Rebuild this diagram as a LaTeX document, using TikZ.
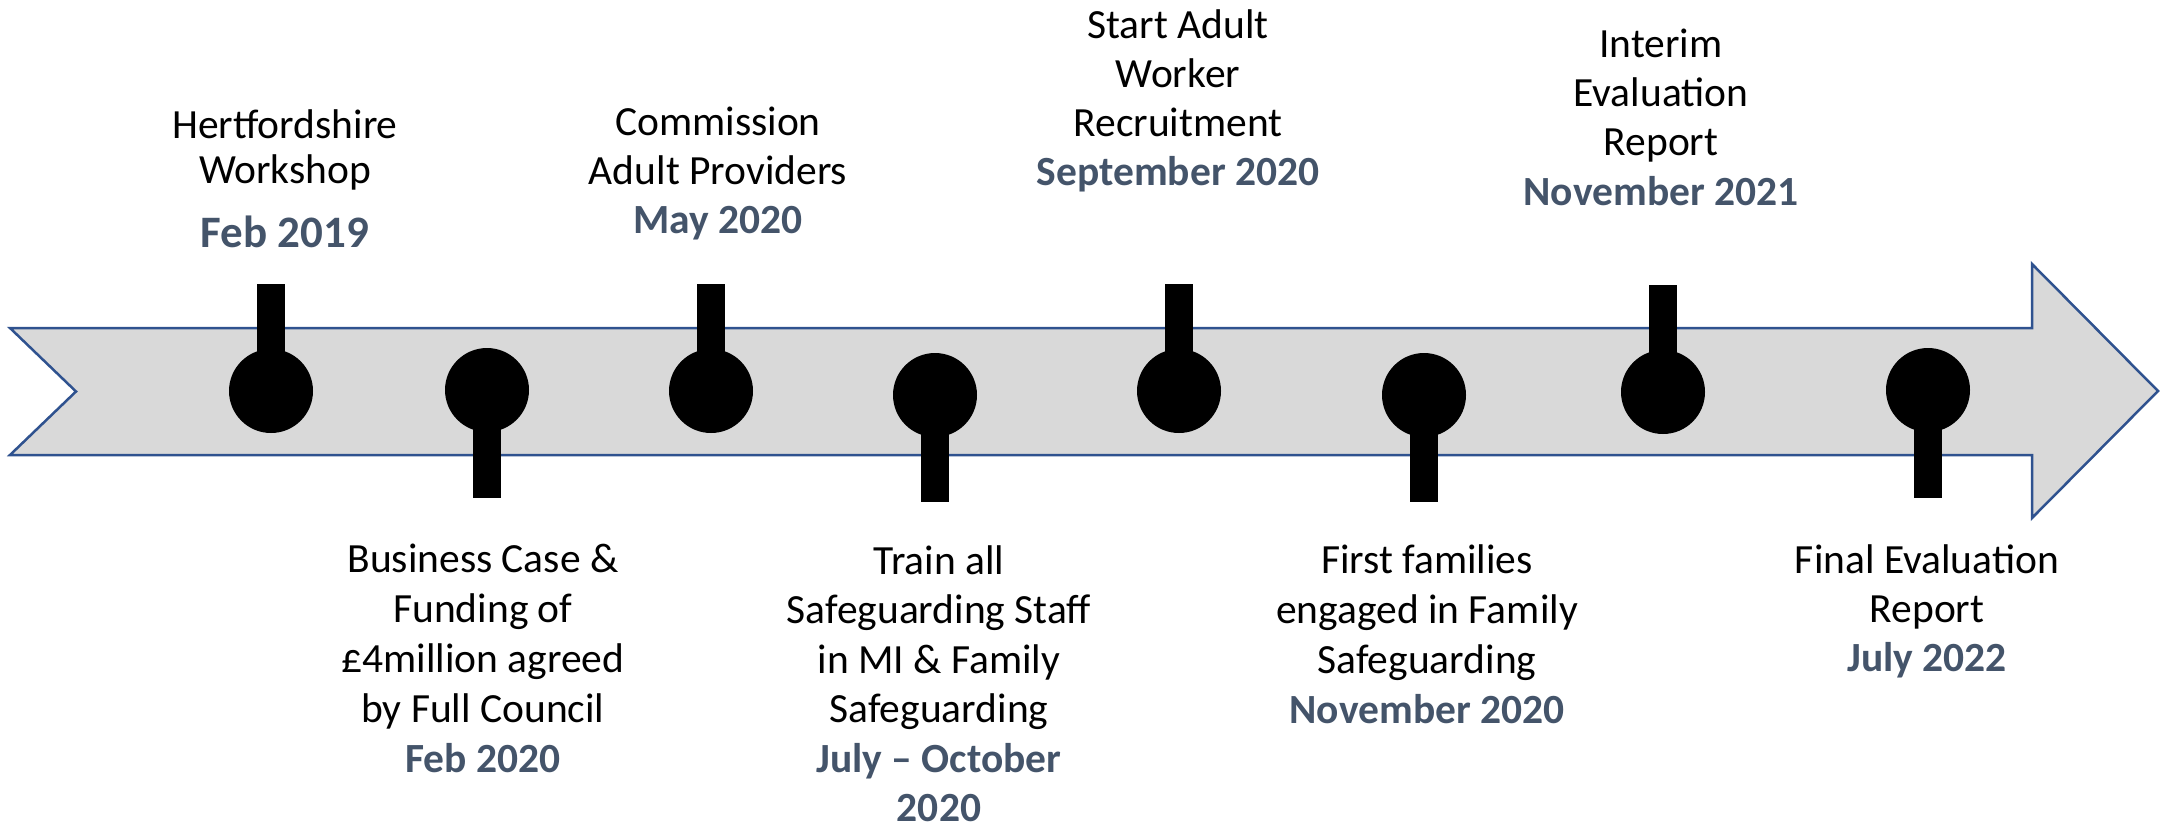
\documentclass[tikz,border=0pt]{standalone}
\usepackage{fontspec}
\setmainfont{Carlito}
\usetikzlibrary{calc}
\definecolor{datec}{HTML}{44546A}
\definecolor{bandfill}{HTML}{D9D9D9}
\definecolor{bandline}{HTML}{2F528F}
\newcommand\mydate[1]{{\bfseries\color{datec}#1}}
\newcommand\firststrut{\rule{0pt}{32pt}}
\begin{document}
\begin{tikzpicture}[x=1pt,y=-1pt,
  band/.style={fill=bandfill, draw=bandline, line width=2.5pt, line join=miter},
  pinhead/.style={circle, fill=black, minimum size=84pt, inner sep=0pt},
  stem/.style={fill=black},
  lbl/.style={align=center, inner sep=0pt, anchor=north},
  ]
\useasboundingbox (0,0) rectangle (2172,831);

% timeline arrow
\draw[band] (10,328) -- (2032,328) -- (2032,264) -- (2158,391) -- (2032,518)
  -- (2032,455) -- (10,455) -- (76,391.5) -- cycle;

% pins
\node[pinhead] (p1) at (271,391) {};
\node[pinhead] (p2) at (487,390) {};
\node[pinhead] (p3) at (711,391) {};
\node[pinhead] (p4) at (935,395) {};
\node[pinhead] (p5) at (1179,391) {};
\node[pinhead] (p6) at (1424,395) {};
\node[pinhead] (p7) at (1663,392) {};
\node[pinhead] (p8) at (1928,390) {};

% stems
\fill[stem] ($(p1.center)+(-14,0)$) rectangle ($(p1.center)+(14,-107)$);
\fill[stem] ($(p2.center)+(-14,0)$) rectangle ($(p2.center)+(14,108)$);
\fill[stem] ($(p3.center)+(-14,0)$) rectangle ($(p3.center)+(14,-107)$);
\fill[stem] ($(p4.center)+(-14,0)$) rectangle ($(p4.center)+(14,107)$);
\fill[stem] ($(p5.center)+(-14,0)$) rectangle ($(p5.center)+(14,-107)$);
\fill[stem] ($(p6.center)+(-14,0)$) rectangle ($(p6.center)+(14,107)$);
\fill[stem] ($(p7.center)+(-14,0)$) rectangle ($(p7.center)+(14,-107)$);
\fill[stem] ($(p8.center)+(-14,0)$) rectangle ($(p8.center)+(14,108)$);

% labels
\node[lbl, font=\fontsize{41.5}{45}\selectfont] (t1) at (285,106)
  {\firststrut Hertfordshire\\Workshop\\[19pt]{\fontsize{45}{45}\selectfont\mydate{Feb 2019}}};
\node[lbl, font=\fontsize{41.5}{50}\selectfont] (t2) at (483,540)
  {\firststrut Business Case \&\\Funding of\\£4million agreed\\by Full Council\\\mydate{Feb 2020}};
\node[lbl, font=\fontsize{41.5}{49}\selectfont] (t3) at (718,103)
  {\firststrut Commission\\Adult Providers\\\mydate{May 2020}};
\node[lbl, font=\fontsize{41.5}{49.5}\selectfont] (t4) at (939,542)
  {\firststrut Train all\\Safeguarding Staff\\in MI \& Family\\Safeguarding\\\mydate{July – October}\\\mydate{2020}};
\node[lbl, font=\fontsize{41.5}{49}\selectfont] (t5) at (1178,6)
  {\firststrut Start Adult\\Worker\\Recruitment\\\mydate{September 2020}};
\node[lbl, font=\fontsize{41.5}{50}\selectfont] (t6) at (1427,541)
  {\firststrut First families\\engaged in Family\\Safeguarding\\\mydate{November 2020}};
\node[lbl, font=\fontsize{41.5}{49.3}\selectfont] (t7) at (1661,25)
  {\firststrut Interim\\Evaluation\\Report\\\mydate{November 2021}};
\node[lbl, font=\fontsize{41.5}{49}\selectfont] (t8) at (1927,541)
  {\firststrut Final Evaluation\\Report\\\mydate{July 2022}};
\end{tikzpicture}
\end{document}
